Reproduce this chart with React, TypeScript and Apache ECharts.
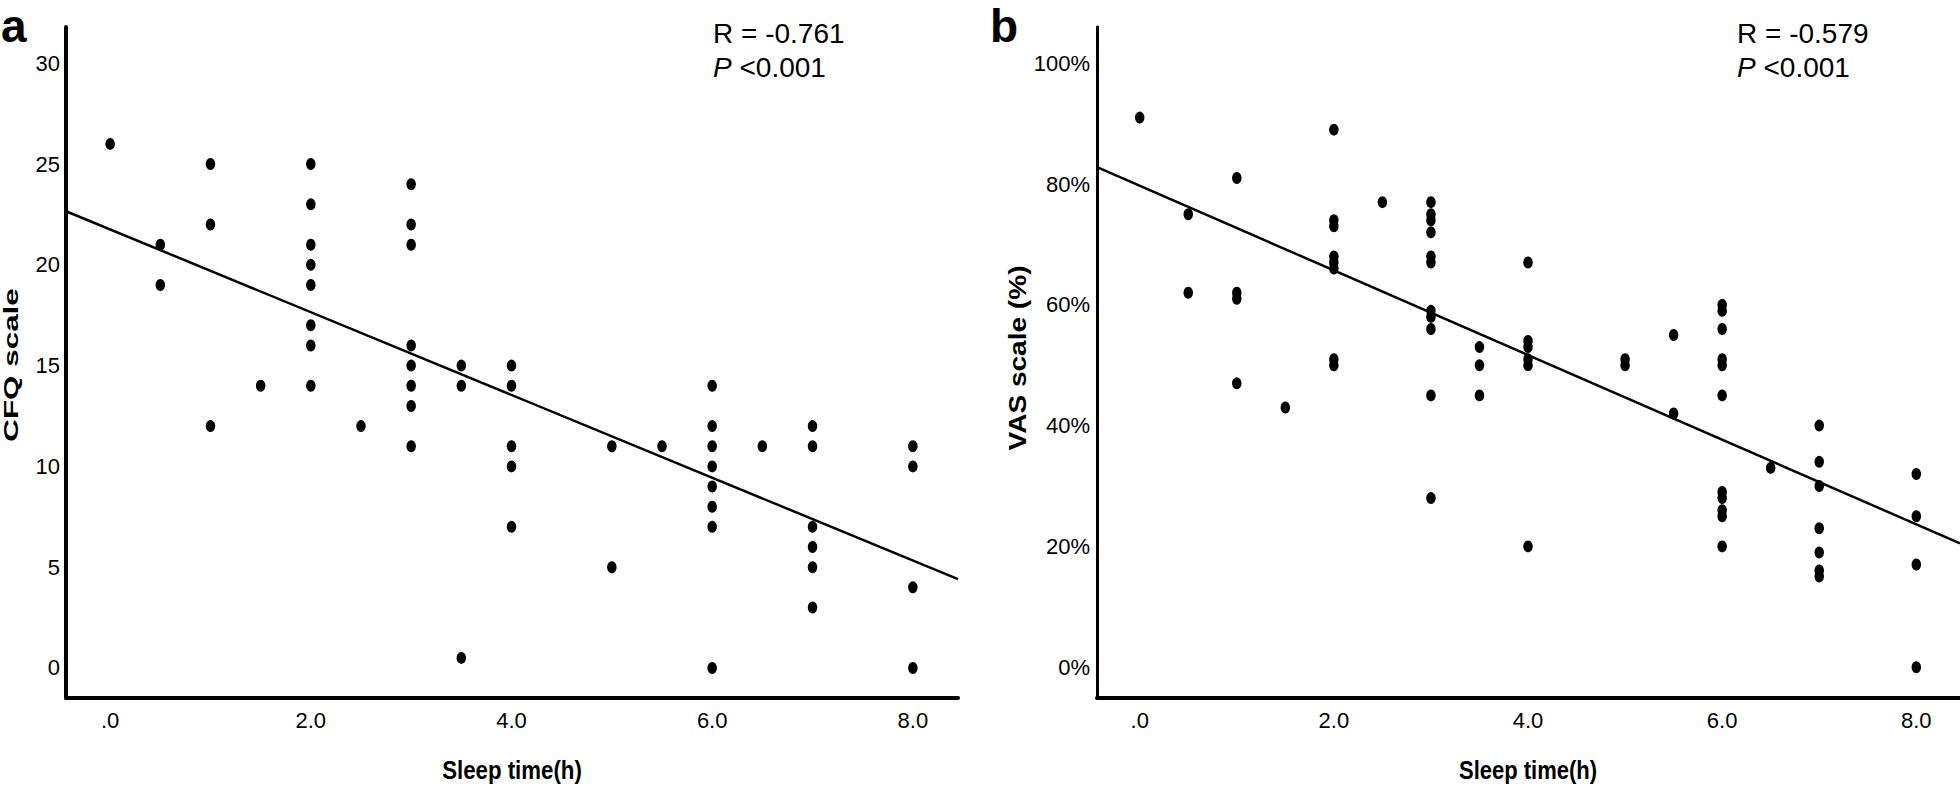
import React, { useEffect, useRef } from "react";
import * as echarts from "echarts";

// ---- Data ----
// Panel a: sleep time (h) vs CFQ scale
const cfqPoints: [number, number][] = [
  [0, 26],
  [0.5, 21], [0.5, 19],
  [1, 25], [1, 22], [1, 12],
  [1.5, 14],
  [2, 25], [2, 23], [2, 21], [2, 20], [2, 19], [2, 17], [2, 16], [2, 14],
  [2.5, 12],
  [3, 24], [3, 22], [3, 21], [3, 16], [3, 15], [3, 14], [3, 13], [3, 11],
  [3.5, 15], [3.5, 14], [3.5, 0.5],
  [4, 15], [4, 14], [4, 11], [4, 10], [4, 7],
  [5, 11], [5, 5],
  [5.5, 11],
  [6, 14], [6, 12], [6, 11], [6, 10], [6, 9], [6, 8], [6, 7], [6, 0],
  [6.5, 11],
  [7, 12], [7, 11], [7, 7], [7, 6], [7, 5], [7, 3],
  [8, 11], [8, 10], [8, 4], [8, 0],
];
// fitted line endpoints (at the axis extents)
const cfqFit: [number, number][] = [[-0.44, 22.66], [8.45, 4.41]];

// Panel b: sleep time (h) vs VAS scale (%)
const vasPoints: [number, number][] = [
  [0, 91],
  [0.5, 75], [0.5, 62],
  [1, 81], [1, 62], [1, 61], [1, 47],
  [1.5, 43],
  [2, 89], [2, 74], [2, 73], [2, 68], [2, 67], [2, 66], [2, 51], [2, 50],
  [2.5, 77],
  [3, 77], [3, 75], [3, 74], [3, 72], [3, 68], [3, 67], [3, 59], [3, 58], [3, 56], [3, 45], [3, 28],
  [3.5, 53], [3.5, 50], [3.5, 45],
  [4, 67], [4, 54], [4, 53], [4, 51], [4, 50], [4, 20],
  [5, 51], [5, 50],
  [5.5, 55], [5.5, 42],
  [6, 60], [6, 59], [6, 56], [6, 51], [6, 50], [6, 45], [6, 29], [6, 28], [6, 26], [6, 25], [6, 20],
  [6.5, 33],
  [7, 40], [7, 34], [7, 30], [7, 23], [7, 19], [7, 16], [7, 15],
  [8, 32], [8, 25], [8, 17], [8, 0],
];
const vasFit: [number, number][] = [[-0.44, 82.8], [8.45, 20.5]];

// Tick values and labels
const xTickValues = [0, 2, 4, 6, 8];
const xTickLabels = [".0", "2.0", "4.0", "6.0", "8.0"];
const cfqTickValues = [0, 5, 10, 15, 20, 25, 30];
const cfqTickLabels = ["0", "5", "10", "15", "20", "25", "30"];
const vasTickValues = [0, 20, 40, 60, 80, 100];
const vasTickLabels = ["0%", "20%", "40%", "60%", "80%", "100%"];

// Texts
const panelLabels = ["a", "b"];
const rTexts = ["R = -0.761", "R = -0.579"];
const pTexts = ["<0.001", "<0.001"];
const xTitle = "Sleep time(h)";
const yTitles = ["CFQ scale", "VAS scale (%)"];

const SANS = '"Liberation Sans", Arial, Helvetica, sans-serif';
const NARROW = '"Liberation Sans Narrow", "Arial Narrow", "Liberation Sans", Arial, sans-serif';

function labelFor(values: number[], labels: string[]) {
  return (v: number) => {
    const i = values.findIndex((t) => Math.abs(t - v) < 1e-6);
    return i >= 0 ? labels[i] : "";
  };
}

export default function App() {
  const ref = useRef<HTMLDivElement | null>(null);

  useEffect(() => {
    document.body.style.margin = "0";
    if (!ref.current) return;
    const chart = echarts.init(ref.current, undefined, { renderer: "svg" });

    const xAxisBase = (gridIndex: number) => ({
      type: "value" as const,
      gridIndex,
      min: -0.44,
      max: 8.45,
      axisLine: { show: true, onZero: false, lineStyle: { color: "#000", width: 4 } },
      axisTick: { show: false },
      splitLine: { show: false },
      axisLabel: {
        customValues: xTickValues,
        formatter: labelFor(xTickValues, xTickLabels),
        color: "#000",
        fontFamily: NARROW,
        fontSize: 22,
        margin: 11,
      },
    });

    const option: any = {
      animation: false,
      backgroundColor: "#fff",
      grid: [
        { left: 66, top: 27, width: 892, height: 671 },
        { left: 1097, top: 27, width: 863, height: 671 },
      ],
      xAxis: [xAxisBase(0), xAxisBase(1)],
      yAxis: [
        {
          type: "value",
          gridIndex: 0,
          min: -1.49,
          max: 31.8,
          axisLine: { show: true, onZero: false, lineStyle: { color: "#000", width: 4 } },
          axisTick: { show: false },
          splitLine: { show: false },
          axisLabel: {
            customValues: cfqTickValues,
            formatter: labelFor(cfqTickValues, cfqTickLabels),
            color: "#000",
            fontFamily: NARROW,
            fontSize: 22,
            margin: 6,
          },
        },
        {
          type: "value",
          gridIndex: 1,
          min: -5.1,
          max: 106,
          axisLine: { show: true, onZero: false, lineStyle: { color: "#000", width: 3 } },
          axisTick: { show: false },
          splitLine: { show: false },
          axisLabel: {
            customValues: vasTickValues,
            formatter: labelFor(vasTickValues, vasTickLabels),
            color: "#000",
            fontFamily: NARROW,
            fontSize: 22,
            margin: 7,
          },
        },
      ],
      series: [
        {
          type: "scatter",
          xAxisIndex: 0,
          yAxisIndex: 0,
          data: cfqPoints,
          symbol: "circle",
          symbolSize: [9.5, 12],
          itemStyle: { color: "#000", opacity: 1 },
        },
        {
          type: "line",
          xAxisIndex: 0,
          yAxisIndex: 0,
          data: cfqFit,
          symbol: "none",
          lineStyle: { color: "#000", width: 2.5 },
        },
        {
          type: "scatter",
          xAxisIndex: 1,
          yAxisIndex: 1,
          data: vasPoints,
          symbol: "circle",
          symbolSize: [9.5, 12],
          itemStyle: { color: "#000", opacity: 1 },
        },
        {
          type: "line",
          xAxisIndex: 1,
          yAxisIndex: 1,
          data: vasFit,
          symbol: "none",
          lineStyle: { color: "#000", width: 2.5 },
        },
      ],
      graphic: [
        // panel letters
        {
          type: "text", x: 1, y: 26,
          style: { text: panelLabels[0], fontFamily: SANS, fontWeight: "bold", fontSize: 46, lineHeight: 46, fill: "#000", align: "left", verticalAlign: "middle" },
        },
        {
          type: "text", x: 990, y: 26,
          style: { text: panelLabels[1], fontFamily: SANS, fontWeight: "bold", fontSize: 46, lineHeight: 46, fill: "#000", align: "left", verticalAlign: "middle" },
        },
        // stats
        {
          type: "text", x: 713, y: 33,
          style: { text: rTexts[0], fontFamily: SANS, fontSize: 28, fill: "#000", align: "left", verticalAlign: "middle" },
        },
        {
          type: "text", x: 713, y: 67,
          style: {
            text: "{i|P} " + pTexts[0], fontFamily: SANS, fontSize: 28, fill: "#000", align: "left", verticalAlign: "middle",
            rich: { i: { fontStyle: "italic", fontFamily: SANS, fontSize: 28, fill: "#000" } },
          },
        },
        {
          type: "text", x: 1737, y: 33,
          style: { text: rTexts[1], fontFamily: SANS, fontSize: 28, fill: "#000", align: "left", verticalAlign: "middle" },
        },
        {
          type: "text", x: 1737, y: 67,
          style: {
            text: "{i|P} " + pTexts[1], fontFamily: SANS, fontSize: 28, fill: "#000", align: "left", verticalAlign: "middle",
            rich: { i: { fontStyle: "italic", fontFamily: SANS, fontSize: 28, fill: "#000" } },
          },
        },
        // x titles
        {
          type: "text", x: 512, y: 771, scaleX: 0.89,
          style: { text: xTitle, fontFamily: SANS, fontWeight: "bold", fontSize: 25, fill: "#000", align: "center", verticalAlign: "middle" },
        },
        {
          type: "text", x: 1528, y: 771, scaleX: 0.88,
          style: { text: xTitle, fontFamily: SANS, fontWeight: "bold", fontSize: 25, fill: "#000", align: "center", verticalAlign: "middle" },
        },
        // y titles
        {
          type: "text", x: 11, y: 365, rotation: Math.PI / 2, scaleX: 1.57,
          style: { text: yTitles[0], fontFamily: SANS, fontWeight: "bold", fontSize: 20, fill: "#000", align: "center", verticalAlign: "middle" },
        },
        {
          type: "text", x: 1018, y: 358, rotation: Math.PI / 2, scaleX: 1.22,
          style: { text: yTitles[1], fontFamily: SANS, fontWeight: "bold", fontSize: 23, fill: "#000", align: "center", verticalAlign: "middle" },
        },
      ],
    };

    chart.setOption(option);
    return () => chart.dispose();
  }, []);

  return <div ref={ref} style={{ width: 1960, height: 788 }} />;
}
